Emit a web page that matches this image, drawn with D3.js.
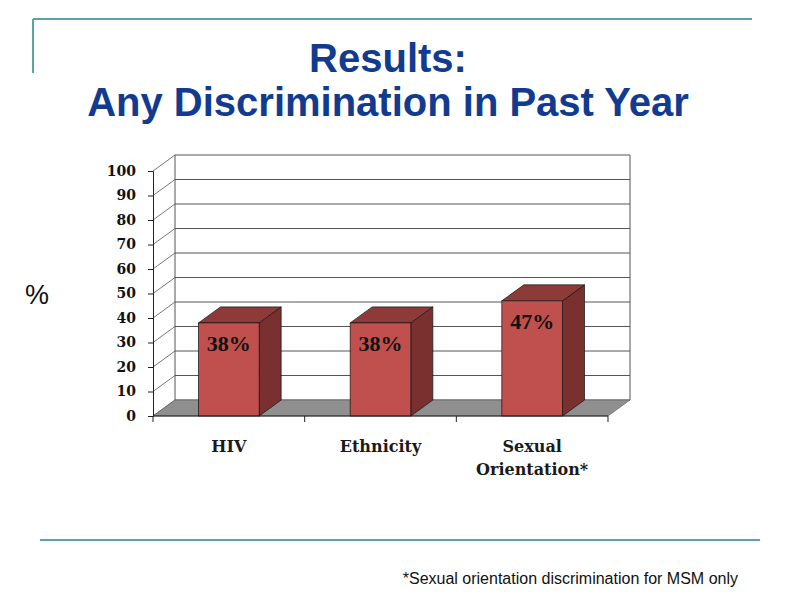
<!DOCTYPE html>
<html>
<head>
<meta charset="utf-8">
<script src="https://cdn.jsdelivr.net/npm/d3@7"></script>
<style>
  body { margin: 0; background: #fff; }
  svg { display: block; }
</style>
</head>
<body>
<span></span>
<script>
// any discrimination in past year - 3d style bar chart

const categories = ['HIV', 'Ethnicity', 'Sexual Orientation*'];
const catLines = [['HIV'], ['Ethnicity'], ['Sexual', 'Orientation*']];
const values = [38, 38, 47];
const valueLabels = ['38%', '38%', '47%'];
const yTicks = [0, 10, 20, 30, 40, 50, 60, 70, 80, 90, 100];

var width = 800, height = 600;
var plot = {left: 153, right: 608, top: 171, bottom: 416};
var dx = 22, dy = -16;   // depth offset of the 3d box

const svg = d3.select('span')
    .append('svg')
    .attr('width', width)
    .attr('height', height);

// slide decoration
svg.append('line').attr('x1', 33).attr('x2', 752).attr('y1', 19).attr('y2', 19)
    .attr('stroke', '#5aa3a8').attr('stroke-width', 2);
svg.append('line').attr('x1', 33).attr('x2', 33).attr('y1', 19).attr('y2', 73)
    .attr('stroke', '#5aa3a8').attr('stroke-width', 2);
svg.append('line').attr('x1', 40).attr('x2', 760).attr('y1', 540).attr('y2', 540)
    .attr('stroke', '#5aa3a8').attr('stroke-width', 2);

svg.append('text').attr('x', 388).attr('y', 72)
    .attr('text-anchor', 'middle')
    .style('font', 'bold 40px "Liberation Sans", Arial, sans-serif')
    .attr('fill', '#123b8f')
    .text('Results:');
svg.append('text').attr('x', 388).attr('y', 116)
    .attr('text-anchor', 'middle')
    .style('font', 'bold 40px "Liberation Sans", Arial, sans-serif')
    .attr('fill', '#123b8f')
    .text('Any Discrimination in Past Year');

const xScale = d3.scaleBand()
    .domain(categories)
    .range([plot.left, plot.right])
    .padding(0);
const yScale = d3.scaleLinear()
    .domain([0, 100])
    .range([plot.bottom, plot.top]);

const g = svg.append('g');
const gridColor = '#555';

// back wall gridlines
g.selectAll('line.grid')
    .data(yTicks)
    .join('line')
    .attr('class', 'grid')
    .attr('x1', plot.left + dx).attr('x2', plot.right + dx)
    .attr('y1', d => yScale(d) + dy).attr('y2', d => yScale(d) + dy)
    .attr('stroke', gridColor).attr('stroke-width', 1);

// side wall diagonals
g.selectAll('line.diag')
    .data(yTicks)
    .join('line')
    .attr('class', 'diag')
    .attr('x1', plot.left).attr('x2', plot.left + dx)
    .attr('y1', d => yScale(d)).attr('y2', d => yScale(d) + dy)
    .attr('stroke', gridColor).attr('stroke-width', 0.8);

// back wall edges
[plot.left + dx, plot.right + dx].forEach(x => {
    g.append('line')
        .attr('x1', x).attr('x2', x)
        .attr('y1', yScale(0) + dy).attr('y2', yScale(100) + dy)
        .attr('stroke', gridColor).attr('stroke-width', 1);
});

// floor
g.append('polygon')
    .attr('points', [
        [plot.left, yScale(0)], [plot.right, yScale(0)],
        [plot.right + dx, yScale(0) + dy], [plot.left + dx, yScale(0) + dy]
    ].join(' '))
    .attr('fill', '#8f8f8f')
    .attr('stroke', '#555').attr('stroke-width', 0.6);

// bars
const barW = xScale.bandwidth() * 0.4;
const bars = g.selectAll('g.bar')
    .data(values)
    .join('g')
    .attr('class', 'bar');

bars.each(function(d, i) {
    const cx = xScale(categories[i]) + xScale.bandwidth() / 2;
    const x0 = cx - barW / 2, x1 = cx + barW / 2;
    const yT = yScale(d), yB = yScale(0);
    const sel = d3.select(this);
    sel.append('polygon')
        .attr('points', [[x1, yT], [x1 + dx, yT + dy], [x1 + dx, yB + dy], [x1, yB]].join(' '))
        .attr('fill', '#7b3030').attr('stroke', '#111').attr('stroke-width', 0.7);
    sel.append('polygon')
        .attr('points', [[x0, yT], [x0 + dx, yT + dy], [x1 + dx, yT + dy], [x1, yT]].join(' '))
        .attr('fill', '#8e3a38').attr('stroke', '#111').attr('stroke-width', 0.7);
    sel.append('rect')
        .attr('x', x0).attr('y', yT)
        .attr('width', barW).attr('height', yB - yT)
        .attr('fill', '#c0504d').attr('stroke', '#111').attr('stroke-width', 0.7);
    sel.append('text')
        .attr('x', cx).attr('y', yT + 28)
        .attr('text-anchor', 'middle')
        .style('font', 'bold 22px "Liberation Serif", "DejaVu Serif", serif')
        .attr('fill', '#111')
        .text(valueLabels[i]);
});

// y axis
svg.append('g')
    .attr('transform', `translate(${plot.left},0)`)
    .call(d3.axisLeft(yScale).tickValues(yTicks).tickSize(5).tickPadding(12))
    .call(a => a.select('.domain').attr('stroke', '#222'))
    .call(a => a.selectAll('line').attr('stroke', '#222'))
    .call(a => a.selectAll('text')
        .style('font', 'bold 14px "DejaVu Serif", serif')
        .attr('fill', '#111'));

// x axis line with ticks at band edges
const xa = svg.append('g');
xa.append('line')
    .attr('x1', plot.left).attr('x2', plot.right)
    .attr('y1', yScale(0)).attr('y2', yScale(0))
    .attr('stroke', '#222');
const edges = categories.map(c => xScale(c)).concat([plot.right]);
xa.selectAll('line.tick')
    .data(edges)
    .join('line')
    .attr('class', 'tick')
    .attr('x1', d => d).attr('x2', d => d)
    .attr('y1', yScale(0)).attr('y2', yScale(0) + 6)
    .attr('stroke', '#222');

xa.selectAll('text.cat')
    .data(categories)
    .join('text')
    .attr('class', 'cat')
    .attr('text-anchor', 'middle')
    .style('font', 'bold 16px "DejaVu Serif", serif')
    .attr('fill', '#1a1a1a')
    .each(function(c, i) {
        const t = d3.select(this);
        catLines[i].forEach((line, k) => {
            t.append('tspan')
                .attr('x', xScale(c) + xScale.bandwidth() / 2)
                .attr('y', yScale(0) + 36 + k * 23)
                .text(line);
        });
    });

// y axis unit
svg.append('text').attr('x', 37).attr('y', 304)
    .attr('text-anchor', 'middle')
    .style('font', '27px "Liberation Sans", Arial, sans-serif')
    .attr('fill', '#111')
    .text('%');

// footnote
svg.append('text').attr('x', 738).attr('y', 584)
    .attr('text-anchor', 'end')
    .style('font', '16px "Liberation Sans", Arial, sans-serif')
    .attr('fill', '#111')
    .text('*Sexual orientation discrimination for MSM only');
</script>
</body>
</html>
